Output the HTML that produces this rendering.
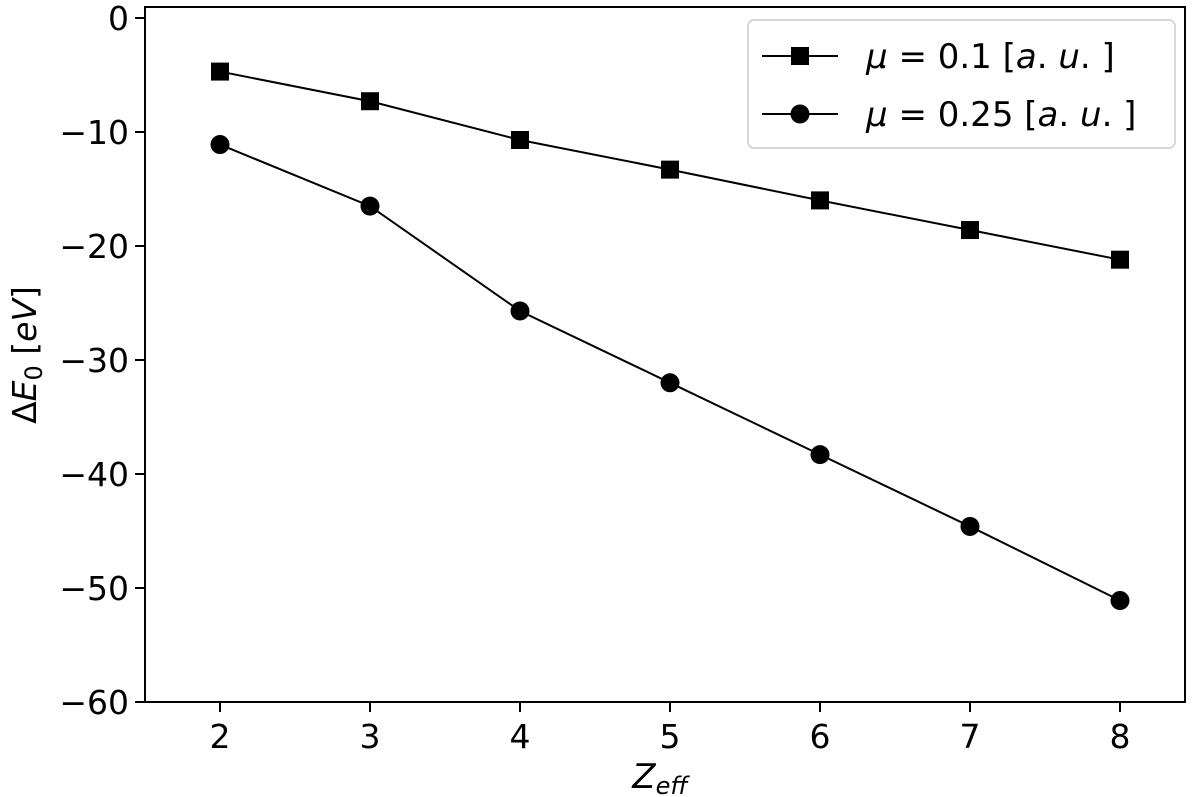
<!DOCTYPE html>
<html><head><meta charset="utf-8"><style>
body{margin:0;background:#fff}
svg{display:block;font-family:"DejaVu Sans","Liberation Sans",sans-serif}
</style></head><body>
<svg id="chart" width="1200" height="797">
<rect id="frame" x="145" y="7" width="1040" height="695" fill="none" stroke="#000" stroke-width="2"/>
<g id="ticks"></g>
<g id="series"></g>
<text x="660" y="788" text-anchor="middle" font-size="34" font-style="italic">Z<tspan font-size="24" dy="6">eff</tspan></text>
<text transform="translate(36,355) rotate(-90)" text-anchor="middle" font-size="33">Δ<tspan font-style="italic">E</tspan><tspan font-size="24" dy="6">0</tspan><tspan dy="-6"> [</tspan><tspan font-style="italic">eV</tspan>]</text>
<g>
<rect x="748" y="20" width="427" height="128" rx="6" fill="#fff" stroke="#ccc" stroke-width="1.5"/>
<g>
<line x1="762" y1="56" x2="838" y2="56" stroke="#000" stroke-width="2"/>
<rect x="791" y="47" width="18" height="18" fill="#000"/>
<text x="866" y="68" font-size="34"><tspan font-style="italic">μ</tspan> = 0.1 [<tspan font-style="italic">a</tspan>. <tspan font-style="italic">u</tspan>. ]</text>
</g>
<g>
<line x1="762" y1="114" x2="838" y2="114" stroke="#000" stroke-width="2"/>
<circle cx="800" cy="114" r="9.5" fill="#000"/>
<text x="866" y="126" font-size="34"><tspan font-style="italic">μ</tspan> = 0.25 [<tspan font-style="italic">a</tspan>. <tspan font-style="italic">u</tspan>. ]</text>
</g>
</g>
</svg>
<script>
const categories=[2,3,4,5,6,7,8];
const seriesMu01=[-4.7,-7.3,-10.7,-13.3,-16.0,-18.6,-21.2];
const seriesMu025=[-11.1,-16.5,-25.7,-32.0,-38.3,-44.6,-51.1];
const yTicks=[0,-10,-20,-30,-40,-50,-60];
const xTicks=[2,3,4,5,6,7,8];
const NS="http://www.w3.org/2000/svg";
function xs(v){return 220+(v-2)*150;}
function ys(v){return 18-v*11.4;}
const tg=document.getElementById('ticks');
function mk(t,a,p){const e=document.createElementNS(NS,t);for(const k in a)e.setAttribute(k,a[k]);p.appendChild(e);return e;}
yTicks.forEach(v=>{
 const y=ys(v);
 const l=mk('line',{x1:135,x2:145,y1:y,y2:y,stroke:'#000','stroke-width':2},tg);
 
 
 const t=mk('text',{x:129,y:y+12,'text-anchor':'end','font-size':33},tg);
 t.textContent=v<0?'\u2212'+(-v):String(v);
 
 
});
xTicks.forEach(v=>{
 const x=xs(v);
 const l=mk('line',{x1:x,x2:x,y1:702,y2:712,stroke:'#000','stroke-width':2},tg);
 
 
 const t=mk('text',{x:x,y:748,'text-anchor':'middle','font-size':33},tg);
 t.textContent=String(v);
 
 
});
const sg=document.getElementById('series');
function draw(vals,shape,name){
 const pl=mk('polyline',{points:vals.map((v,i)=>xs(categories[i])+','+ys(v)).join(' '),fill:'none',stroke:'#000','stroke-width':2},sg);
 
 
 vals.forEach((v,i)=>{
  const x=xs(categories[i]),y=ys(v);
  let m;
  if(shape==='sq')m=mk('rect',{x:x-9,y:y-9,width:18,height:18,fill:'#000'},sg);
  else m=mk('circle',{cx:x,cy:y,r:9.5,fill:'#000'},sg);
  
  
 });
}
draw(seriesMu01,'sq','mu-0.1');
draw(seriesMu025,'ci','mu-0.25');
</script>
</body></html>
